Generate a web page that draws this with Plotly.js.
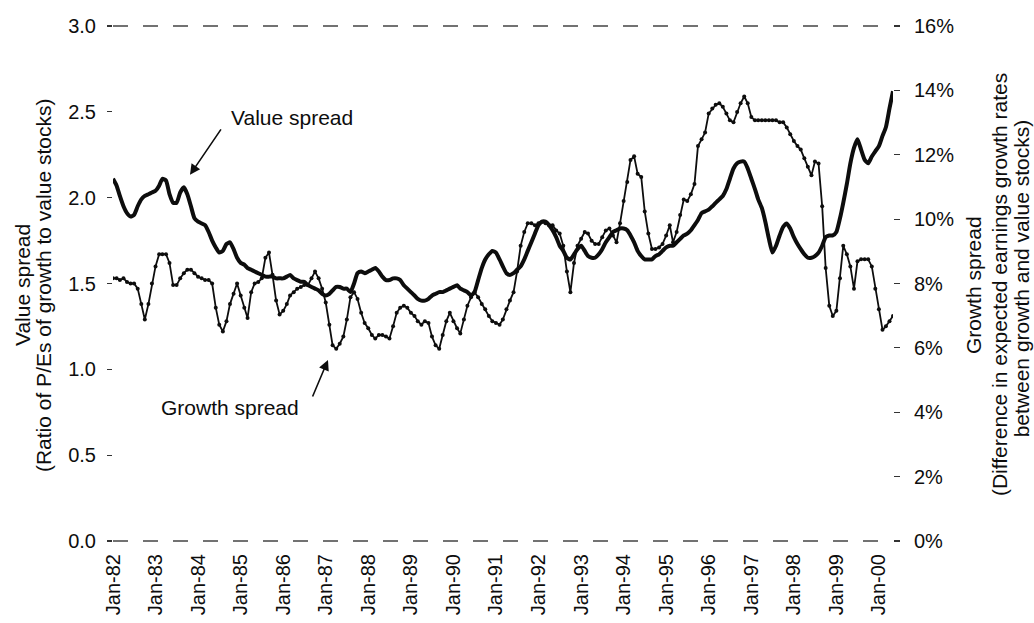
<!DOCTYPE html>
<html>
<head>
<meta charset="utf-8">
<script src="https://cdn.plot.ly/plotly-3.0.1.min.js"></script>
<style>html,body{margin:0;padding:0;background:#fff}#chart{width:1034px;height:623px}</style>
</head>
<body>
<div id="chart"></div>
<script>
// Monthly series, Jan-1982 .. May-2000
const startYear = 1982;

// Value spread (ratio of P/Es of growth to value stocks) - left axis
const valueSpread = [
  2.11,2.07,2.01,1.95,1.91,1.89,1.90,1.95,1.99,2.01,2.02,2.03,
  2.04,2.07,2.11,2.10,2.02,1.97,1.97,2.03,2.06,2.02,1.95,1.88,
  1.86,1.85,1.84,1.80,1.75,1.71,1.68,1.69,1.73,1.74,1.70,1.65,
  1.62,1.61,1.59,1.58,1.57,1.56,1.55,1.54,1.54,1.54,1.53,1.53,
  1.53,1.54,1.55,1.53,1.52,1.51,1.51,1.49,1.48,1.47,1.46,1.44,
  1.43,1.44,1.46,1.48,1.48,1.47,1.47,1.45,1.50,1.56,1.57,1.56,
  1.57,1.58,1.59,1.57,1.54,1.52,1.52,1.53,1.53,1.52,1.49,1.47,
  1.45,1.43,1.41,1.40,1.40,1.41,1.43,1.44,1.45,1.45,1.46,1.47,
  1.48,1.49,1.47,1.46,1.45,1.43,1.45,1.52,1.59,1.64,1.67,1.69,
  1.68,1.64,1.60,1.56,1.55,1.56,1.58,1.60,1.64,1.69,1.74,1.79,
  1.84,1.86,1.86,1.84,1.81,1.77,1.72,1.69,1.65,1.64,1.67,1.70,
  1.72,1.69,1.66,1.65,1.65,1.67,1.70,1.74,1.77,1.80,1.81,1.82,
  1.82,1.81,1.78,1.74,1.69,1.66,1.64,1.64,1.64,1.66,1.67,1.69,
  1.71,1.72,1.72,1.74,1.76,1.78,1.79,1.81,1.84,1.87,1.91,1.92,
  1.93,1.95,1.97,1.99,2.01,2.05,2.11,2.17,2.20,2.21,2.21,2.17,
  2.11,2.05,1.99,1.94,1.86,1.76,1.68,1.72,1.78,1.83,1.85,1.82,
  1.77,1.73,1.70,1.67,1.65,1.65,1.66,1.68,1.72,1.77,1.78,1.78,
  1.80,1.88,1.97,2.08,2.20,2.29,2.34,2.28,2.22,2.20,2.24,2.27,
  2.30,2.36,2.41,2.52,2.62
];

// Growth spread (% difference in expected earnings growth rates) - right axis
const growthSpread = [
  8.16,8.16,8.11,8.16,8.05,8.00,8.00,7.84,7.36,6.88,7.36,8.00,
  8.53,8.91,8.91,8.91,8.64,7.95,7.95,8.16,8.32,8.43,8.43,8.32,
  8.21,8.16,8.11,8.11,8.00,7.25,6.72,6.51,6.83,7.36,7.68,8.00,
  7.63,7.25,6.93,7.73,8.00,8.05,8.16,8.80,8.96,8.27,7.47,7.04,
  7.15,7.36,7.63,7.73,7.84,7.89,7.95,7.95,8.16,8.37,8.16,7.84,
  7.41,6.72,6.08,5.97,6.13,6.35,6.88,7.57,7.73,7.52,7.09,6.77,
  6.61,6.40,6.29,6.40,6.40,6.35,6.29,6.67,7.09,7.25,7.31,7.25,
  7.09,6.99,6.83,6.72,6.83,6.77,6.35,6.08,5.97,6.40,6.83,7.09,
  6.83,6.61,6.45,6.88,7.31,7.57,7.73,7.57,7.36,7.20,6.99,6.83,
  6.77,6.72,6.88,7.20,7.47,7.73,8.37,9.17,9.60,9.87,9.87,9.81,
  9.87,9.92,9.87,9.81,9.81,9.65,9.55,9.17,8.37,7.73,8.64,9.17,
  9.39,9.60,9.55,9.33,9.23,9.23,9.44,9.65,9.71,9.49,9.28,9.87,
  10.56,11.15,11.84,11.95,11.41,11.31,10.24,9.55,9.07,9.07,9.12,9.23,
  9.49,9.81,9.28,9.60,10.13,10.61,10.56,10.77,11.09,12.27,12.48,12.69,
  13.28,13.44,13.55,13.60,13.49,13.28,13.07,13.01,13.33,13.60,13.81,13.60,
  13.17,13.07,13.07,13.07,13.07,13.07,13.07,13.07,13.01,13.01,12.85,12.64,
  12.43,12.27,12.16,11.89,11.63,11.36,11.79,11.73,10.40,8.48,7.31,6.99,
  7.15,8.16,9.17,8.91,8.53,7.84,8.69,8.75,8.75,8.75,8.53,7.84,
  7.20,6.56,6.67,6.83,6.99
];

const tickYears = [1982,1983,1984,1985,1986,1987,1988,1989,1990,1991,1992,1993,1994,1995,1996,1997,1998,1999,2000];
const tickLabels = ['Jan-82','Jan-83','Jan-84','Jan-85','Jan-86','Jan-87','Jan-88','Jan-89','Jan-90','Jan-91','Jan-92','Jan-93','Jan-94','Jan-95','Jan-96','Jan-97','Jan-98','Jan-99','Jan-00'];
const leftTicks = [0, 0.5, 1.0, 1.5, 2.0, 2.5, 3.0];
const leftTickLabels = ['0.0','0.5','1.0','1.5','2.0','2.5','3.0'];
const rightTicks = [0, 2, 4, 6, 8, 10, 12, 14, 16];
const rightTickLabels = ['0%','2%','4%','6%','8%','10%','12%','14%','16%'];

function monthDate(i) {
  const y = startYear + Math.floor(i / 12);
  const m = (i % 12) + 1;
  return y + '-' + (m < 10 ? '0' + m : m) + '-01';
}
const months = valueSpread.map((_, i) => monthDate(i));
const tickDates = tickYears.map(y => y + '-01-01');

const FONT = 'Liberation Sans, Arial, Helvetica, sans-serif';
const INK = '#0d0d0d';

const traces = [
  {
    x: months, y: valueSpread, type: 'scatter', mode: 'lines',
    name: 'Value spread', yaxis: 'y',
    line: {color: INK, width: 4, shape: 'spline', smoothing: 0.5},
    hoverinfo: 'x+y'
  },
  {
    x: months, y: growthSpread, type: 'scatter', mode: 'lines+markers',
    name: 'Growth spread', yaxis: 'y2',
    line: {color: INK, width: 1.8},
    marker: {color: INK, size: 4, symbol: 'circle'},
    hoverinfo: 'x+y'
  }
];

const layout = {
  width: 1034, height: 623,
  margin: {l: 113, r: 141, t: 26, b: 82},
  paper_bgcolor: '#ffffff', plot_bgcolor: '#ffffff',
  showlegend: false,
  font: {family: FONT, size: 20, color: INK},
  xaxis: {
    type: 'date',
    range: [months[0], months[months.length - 1]],
    tickvals: tickDates, ticktext: tickLabels,
    tickangle: -90, ticks: '',
    showgrid: false, zeroline: false, showline: false,
    tickfont: {family: FONT, size: 20, color: INK},
    ticklabelstandoff: 8
  },
  yaxis: {
    range: [0, 3],
    tickvals: leftTicks, ticktext: leftTickLabels,
    ticks: 'outside', ticklen: 5, tickwidth: 1.2, tickcolor: '#333',
    showgrid: false, zeroline: false, showline: false,
    tickfont: {family: FONT, size: 20, color: INK},
    ticklabelstandoff: 7
  },
  yaxis2: {
    range: [0, 16], overlaying: 'y', side: 'right',
    tickvals: rightTicks, ticktext: rightTickLabels,
    ticks: 'outside', ticklen: 6, tickwidth: 1.2, tickcolor: '#333',
    showgrid: false, zeroline: false, showline: false,
    tickfont: {family: FONT, size: 20, color: INK},
    ticklabelstandoff: 10
  },
  shapes: [
    {type: 'line', xref: 'paper', yref: 'paper', x0: 0, x1: 1, y0: 1, y1: 1,
     line: {color: '#444', width: 1.3, dash: 'longdash'}},
    {type: 'line', xref: 'paper', yref: 'paper', x0: 0, x1: 1, y0: 0, y1: 0,
     line: {color: '#444', width: 1.3, dash: 'longdash'}}
  ],
  annotations: [
    // left axis title (two lines)
    {text: 'Value spread', xref: 'paper', yref: 'paper', x: -0.1167, y: 0.497,
     textangle: -90, showarrow: false, xanchor: 'center', yanchor: 'middle',
     font: {family: FONT, size: 21, color: INK}},
    {text: '(Ratio of P/Es of growth to value stocks)', xref: 'paper', yref: 'paper', x: -0.0897, y: 0.497,
     textangle: -90, showarrow: false, xanchor: 'center', yanchor: 'middle',
     font: {family: FONT, size: 21, color: INK}},
    // right axis title (three lines)
    {text: 'Growth spread', xref: 'paper', yref: 'paper', x: 1.1026, y: 0.497,
     textangle: -90, showarrow: false, xanchor: 'center', yanchor: 'middle',
     font: {family: FONT, size: 21, color: INK}},
    {text: '(Difference in expected earnings growth rates', xref: 'paper', yref: 'paper', x: 1.1359, y: 0.497,
     textangle: -90, showarrow: false, xanchor: 'center', yanchor: 'middle',
     font: {family: FONT, size: 21, color: INK}},
    {text: 'between growth and value stocks)', xref: 'paper', yref: 'paper', x: 1.1641, y: 0.51,
     textangle: -90, showarrow: false, xanchor: 'center', yanchor: 'middle',
     font: {family: FONT, size: 21, color: INK}},
    // series labels
    {text: 'Value spread', xref: 'paper', yref: 'paper', x: 0.230, y: 0.823,
     showarrow: false, xanchor: 'center', yanchor: 'middle',
     font: {family: FONT, size: 21, color: INK}},
    {text: 'Growth spread', xref: 'paper', yref: 'paper', x: 0.150, y: 0.260,
     showarrow: false, xanchor: 'center', yanchor: 'middle',
     font: {family: FONT, size: 21, color: INK}},
    // arrows
    {text: '', xref: 'paper', yref: 'paper', x: 0.0987, y: 0.711, ax: 32, ay: -47,
     showarrow: true, arrowhead: 2, arrowsize: 1.3, arrowwidth: 1.6, arrowcolor: INK, standoff: 0},
    {text: '', xref: 'paper', yref: 'paper', x: 0.2756, y: 0.3515, ax: -16, ay: 38,
     showarrow: true, arrowhead: 2, arrowsize: 1.3, arrowwidth: 1.6, arrowcolor: INK, standoff: 0}
  ]
};

Plotly.newPlot('chart', traces, layout, {displayModeBar: false, staticPlot: true});
</script>
</body>
</html>
